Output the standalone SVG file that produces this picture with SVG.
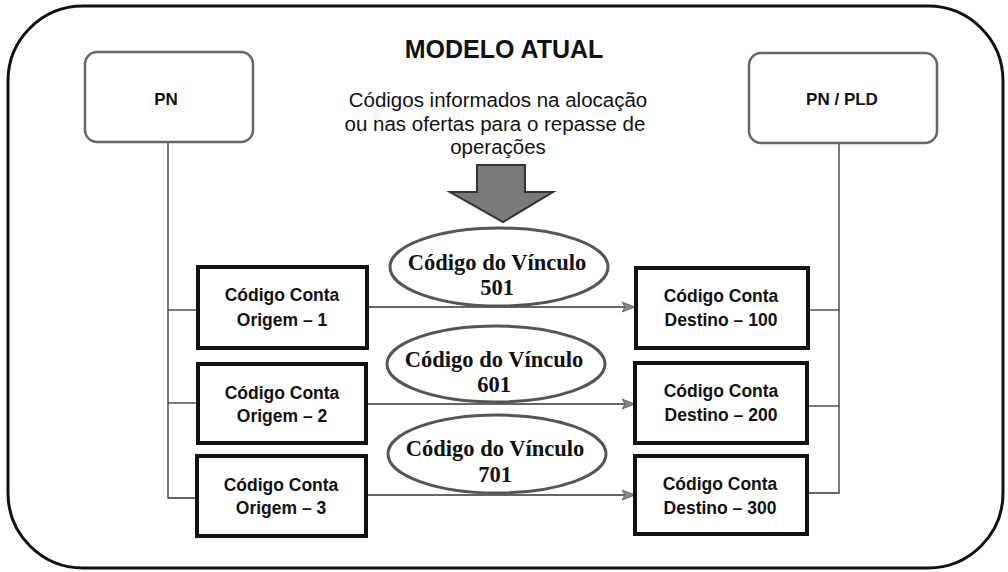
<svg xmlns="http://www.w3.org/2000/svg" width="1008" height="572" viewBox="0 0 1008 572">
<style>
.frame{fill:none;stroke:#111;stroke-width:3}
.soft{fill:#fff;stroke:#666;stroke-width:2.5}
.box{fill:#fff;stroke:#111;stroke-width:4}
.ell{fill:#fff;stroke:#555;stroke-width:3}
.conn{fill:none;stroke:#333;stroke-width:1.3}
.sans{font-family:"Liberation Sans",Arial,sans-serif;fill:#111}
.b{font-weight:bold}
.serif{font-family:"Liberation Serif","Times New Roman",serif;font-weight:bold;fill:#111;font-size:22.5px}
</style>
<defs>
<marker id="ah" markerWidth="14" markerHeight="12" refX="13" refY="6" orient="auto" markerUnits="userSpaceOnUse">
<path d="M0,1 L13,6 L0,11 L3,6 Z" fill="#888" stroke="#555" stroke-width="0.8"/>
</marker>
</defs>
<rect class="frame" x="8" y="6" width="995" height="562" rx="75" ry="75"/>
<text class="sans b" x="504" y="58" font-size="25" text-anchor="middle">MODELO ATUAL</text>
<g class="sans" font-size="20.5" text-anchor="middle">
<text x="498" y="107">Códigos informados na alocação</text>
<text x="495" y="131">ou nas ofertas para o repasse de</text>
<text x="498" y="154">operações</text>
</g>
<g id="bigarrow">
<path d="M477,165 L525,165 L525,192 L553,192 L503,222 L450,192 L477,192 Z" fill="#7a7a7a" stroke="#333" stroke-width="2"/>
</g>
<g id="connectors">
<polyline class="conn" points="168,142 168,498 198,498"/>
<line class="conn" x1="168" y1="310" x2="198" y2="310"/>
<line class="conn" x1="168" y1="403" x2="198" y2="403"/>
<polyline class="conn" points="839,143 839,493 808,493"/>
<line class="conn" x1="808" y1="310" x2="839" y2="310"/>
<line class="conn" x1="808" y1="406" x2="839" y2="406"/>
<line class="conn" x1="367" y1="307" x2="635" y2="307" marker-end="url(#ah)"/>
<line class="conn" x1="367" y1="404" x2="635" y2="404" marker-end="url(#ah)"/>
<line class="conn" x1="367" y1="495" x2="635" y2="495" marker-end="url(#ah)"/>
</g>
<g id="pn">
<rect class="soft" x="85" y="52" width="168" height="90" rx="12"/>
<text class="sans b" x="166" y="105" font-size="17" text-anchor="middle">PN</text>
</g>
<g id="pnpld">
<rect class="soft" x="749" y="53" width="188" height="90" rx="12"/>
<text class="sans b" x="842" y="105" font-size="17" text-anchor="middle">PN / PLD</text>
</g>
<g id="v501">
<ellipse class="ell" cx="499" cy="267" rx="109" ry="39"/>
<text class="serif" x="497" y="270" text-anchor="middle">Código do Vínculo</text>
<text class="serif" x="497" y="295" text-anchor="middle">501</text>
</g>
<g id="v601">
<ellipse class="ell" cx="496" cy="364" rx="109" ry="38"/>
<text class="serif" x="494" y="367" text-anchor="middle">Código do Vínculo</text>
<text class="serif" x="494" y="392" text-anchor="middle">601</text>
</g>
<g id="v701">
<ellipse class="ell" cx="497" cy="454" rx="109" ry="39"/>
<text class="serif" x="495" y="456" text-anchor="middle">Código do Vínculo</text>
<text class="serif" x="495" y="482" text-anchor="middle">701</text>
</g>
<g class="sans b" font-size="17.5" text-anchor="middle">
<g id="o1">
<rect class="box" x="198" y="267" width="169" height="81"/>
<text x="282" y="301">Código Conta</text>
<text x="282" y="326">Origem – 1</text>
</g>
<g id="o2">
<rect class="box" x="198" y="364" width="168" height="79"/>
<text x="282" y="399">Código Conta</text>
<text x="282" y="422">Origem – 2</text>
</g>
<g id="o3">
<rect class="box" x="197" y="456" width="169" height="80"/>
<text x="281" y="491">Código Conta</text>
<text x="281" y="514">Origem – 3</text>
</g>
<g id="d1">
<rect class="box" x="636" y="268" width="172" height="80"/>
<text x="721" y="302">Código Conta</text>
<text x="721" y="326">Destino – 100</text>
</g>
<g id="d2">
<rect class="box" x="635" y="363" width="172" height="80"/>
<text x="721" y="397">Código Conta</text>
<text x="721" y="421">Destino – 200</text>
</g>
<g id="d3">
<rect class="box" x="635" y="456" width="172" height="78"/>
<text x="720" y="490">Código Conta</text>
<text x="720" y="514">Destino – 300</text>
</g>
</g>
</svg>
